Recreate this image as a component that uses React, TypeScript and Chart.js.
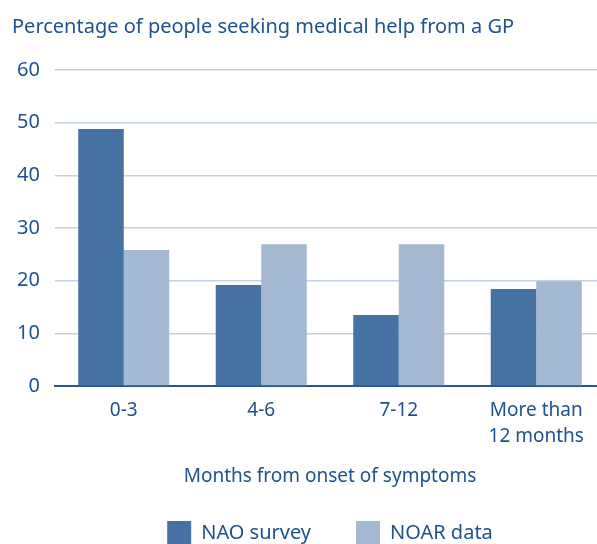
import React, { useEffect, useRef } from "react";
import { Chart, registerables } from "chart.js";

Chart.register(...registerables);

const categories: (string | string[])[] = ["0-3", "4-6", "7-12", ["More than", "12 months"]];
const naoSurvey = [48.8, 19.2, 13.5, 18.4];
const noarData = [25.8, 26.9, 26.9, 19.9];
const seriesNames = ["NAO survey", "NOAR data"];
const chartTitle = "Percentage of people seeking medical help from a GP";
const xAxisTitle = "Months from onset of symptoms";
const yMin = 0;
const yMax = 60;
const yStep = 10;

const TEXT = "#21528f";
const FONT = "'Noto Sans', sans-serif";

export default function App() {
  const ref = useRef<HTMLCanvasElement | null>(null);

  useEffect(() => {
    const canvas = ref.current;
    if (!canvas) return;
    const chart = new Chart(canvas, {
      type: "bar",
      data: {
        labels: categories,
        datasets: [
          {
            label: seriesNames[0],
            data: naoSurvey,
            backgroundColor: "#4672a3",
            borderWidth: 0,
            categoryPercentage: 0.662,
            barPercentage: 1,
          },
          {
            label: seriesNames[1],
            data: noarData,
            backgroundColor: "#a4b9d1",
            borderWidth: 0,
            categoryPercentage: 0.662,
            barPercentage: 1,
          },
        ],
      },
      options: {
        responsive: false,
        animation: false,
        devicePixelRatio: 1,
        layout: { padding: { left: 12, right: 0, top: 0, bottom: 0 } },
        plugins: {
          tooltip: { enabled: false },
          title: {
            display: true,
            text: chartTitle,
            align: "start",
            color: TEXT,
            font: { family: FONT, size: 20, weight: "normal", lineHeight: 1.2 },
            padding: { top: 15, bottom: 31 },
          },
          legend: {
            display: true,
            position: "bottom",
            fullSize: false,
            labels: {
              boxWidth: 24,
              boxHeight: 24,
              padding: 45,
              color: TEXT,
              font: { family: FONT, size: 20 },
            },
          },
        },
        scales: {
          x: {
            grid: { display: false, drawTicks: false },
            border: { display: true, color: "#2b5592", width: 2 },
            ticks: {
              color: TEXT,
              padding: 11,
              maxRotation: 0,
              autoSkip: false,
              font: { family: FONT, size: 19, lineHeight: 1.4 },
            },
            title: {
              display: true,
              text: xAxisTitle,
              color: TEXT,
              font: { family: FONT, size: 19, lineHeight: 1.2 },
              padding: { top: 0, bottom: -12.4 },
            },
            afterFit: (s: any) => {
              s.height = 90;
            },
          },
          y: {
            min: yMin,
            max: yMax,
            grid: {
              drawTicks: false,
              lineWidth: 1.5,
              color: (ctx: any) => (ctx.tick && ctx.tick.value === 0 ? "rgba(0,0,0,0)" : "#c2d1e3"),
            },
            border: { display: false },
            ticks: {
              stepSize: yStep,
              color: TEXT,
              padding: 15,
              font: { family: FONT, size: 20 },
            },
            afterFit: (s: any) => {
              s.width = 43;
            },
          },
        },
      },
    });
    return () => chart.destroy();
  }, []);

  return (
    <div
      style={{
        position: "absolute",
        left: 0,
        top: 0,
        width: 597,
        height: 544,
        overflow: "hidden",
        background: "#fff",
      }}
    >
      <canvas ref={ref} width={605} height={555} style={{ width: 605, height: 555, display: "block" }} />
    </div>
  );
}
